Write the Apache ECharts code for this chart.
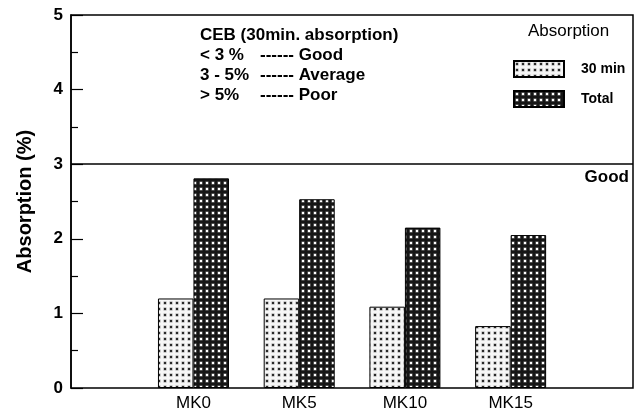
<!DOCTYPE html>
<html>
<head>
<meta charset="utf-8">
<script src="https://cdn.jsdelivr.net/npm/echarts@6/dist/echarts.min.js"></script>
<style>
  html, body { margin: 0; padding: 0; background: #fff; }
  #chart { width: 638px; height: 414px; }
</style>
</head>
<body>
<div id="chart"></div>
<script>
// data
const categories = ["MK0", "MK5", "MK10", "MK15"];
const absorption30min = [1.2, 1.2, 1.09, 0.83];
const absorptionTotal = [2.81, 2.53, 2.15, 2.05];
const yTicks = [0, 1, 2, 3, 4, 5];
const goodLimit = 3;
const cebLines = [
  ["< 3 %", "------ Good"],
  ["3 - 5%", "------ Average"],
  ["> 5%", "------ Poor"]
];

// small dot patterns for the bars
function makePattern(bg, dot, ring) {
  const c = document.createElement("canvas");
  c.width = 6;
  c.height = 6;
  const ctx = c.getContext("2d");
  ctx.fillStyle = bg;
  ctx.fillRect(0, 0, 6, 6);
  ctx.fillStyle = ring;
  ctx.fillRect(1.5, 1.5, 3, 3);
  ctx.fillStyle = dot;
  ctx.fillRect(2, 2, 2, 2);
  return { image: c, repeat: "repeat" };
}
const lightPattern = makePattern("#f6f6f6", "#2a2a2a", "#9a9a9a");
const darkPattern = makePattern("#161616", "#ffffff", "#8a8a8a");

let chart = echarts.init(document.getElementById("chart"));

const font = "'Liberation Sans', Arial, sans-serif";

let option = {
  animation: false,
  textStyle: { fontFamily: font },
  grid: [
    // frame grid
    { left: 71, right: 5, top: 15, bottom: 26, show: true, borderColor: "#000", borderWidth: 1.5 },
    // bars grid
    { left: 140.6, right: 74.5, top: 15, bottom: 26 }
  ],
  xAxis: [
    { gridIndex: 0, type: "value", min: 0, max: 1, show: false },
    {
      gridIndex: 1,
      type: "category",
      data: categories,
      axisLine: { show: false },
      axisTick: { show: false },
      axisLabel: { color: "#000", fontSize: 17, margin: 7, fontFamily: font }
    }
  ],
  yAxis: [
    {
      gridIndex: 0,
      type: "value",
      min: yTicks[0],
      max: yTicks[yTicks.length - 1],
      interval: 1,
      name: "Absorption (%)",
      nameLocation: "middle",
      nameGap: 36,
      nameTextStyle: { fontSize: 20, fontWeight: "bold", color: "#000", fontFamily: font },
      axisLine: { show: true, lineStyle: { color: "#000", width: 1.5 } },
      axisTick: { show: true, inside: true, length: 12, lineStyle: { color: "#000", width: 1.2 } },
      minorTick: { show: true, splitNumber: 2, length: 7, lineStyle: { color: "#000", width: 1.2 } },
      axisLabel: { color: "#000", fontSize: 17, fontWeight: "bold", margin: 8, fontFamily: font },
      splitLine: { show: false }
    },
    { gridIndex: 1, type: "value", min: 0, max: 5, show: false }
  ],
  legend: {
    orient: "vertical",
    left: 513,
    top: 60,
    padding: 0,
    itemWidth: 50,
    itemHeight: 16,
    itemGap: 12,
    icon: "rect",
    data: ["30 min", "Total"],
    textStyle: { fontSize: 14, fontWeight: "bold", color: "#000", padding: [0, 0, 0, 12], fontFamily: font }
  },
  graphic: [
    {
      type: "text",
      left: 528,
      top: 23,
      style: { text: "Absorption", font: "17px " + font, fill: "#000" }
    },
    {
      type: "text",
      left: 200,
      top: 27,
      style: { text: "CEB (30min. absorption)", font: "bold 17px " + font, fill: "#000" }
    }
  ],
  series: [
    {
      type: "line",
      xAxisIndex: 0,
      yAxisIndex: 0,
      data: [],
      silent: true,
      markLine: {
        silent: true,
        symbol: "none",
        lineStyle: { color: "#000", type: "solid", width: 1.5 },
        label: {
          position: "insideEndBottom",
          formatter: "Good",
          color: "#000",
          fontSize: 17,
          fontWeight: "bold",
          distance: [4, 5],
          fontFamily: font
        },
        data: [{ yAxis: goodLimit }]
      }
    },
    {
      name: "30 min",
      type: "bar",
      xAxisIndex: 1,
      yAxisIndex: 1,
      data: absorption30min,
      barWidth: 35.5,
      barGap: "0%",
      itemStyle: { color: lightPattern, borderColor: "#000", borderWidth: 1 }
    },
    {
      name: "Total",
      type: "bar",
      xAxisIndex: 1,
      yAxisIndex: 1,
      data: absorptionTotal,
      barWidth: 35.5,
      barGap: "0%",
      itemStyle: { color: darkPattern, borderColor: "#000", borderWidth: 1 }
    }
  ]
};

// CEB criteria lines
cebLines.forEach(function (row, i) {
  option.graphic.push({
    type: "text", left: 200, top: 47 + i * 19.7,
    style: { text: row[0], font: "bold 17px " + font, fill: "#000" }
  });
  option.graphic.push({
    type: "text", left: 260, top: 47 + i * 19.7,
    style: { text: row[1], font: "bold 17px " + font, fill: "#000" }
  });
});

chart.setOption(option);
</script>
</body>
</html>
